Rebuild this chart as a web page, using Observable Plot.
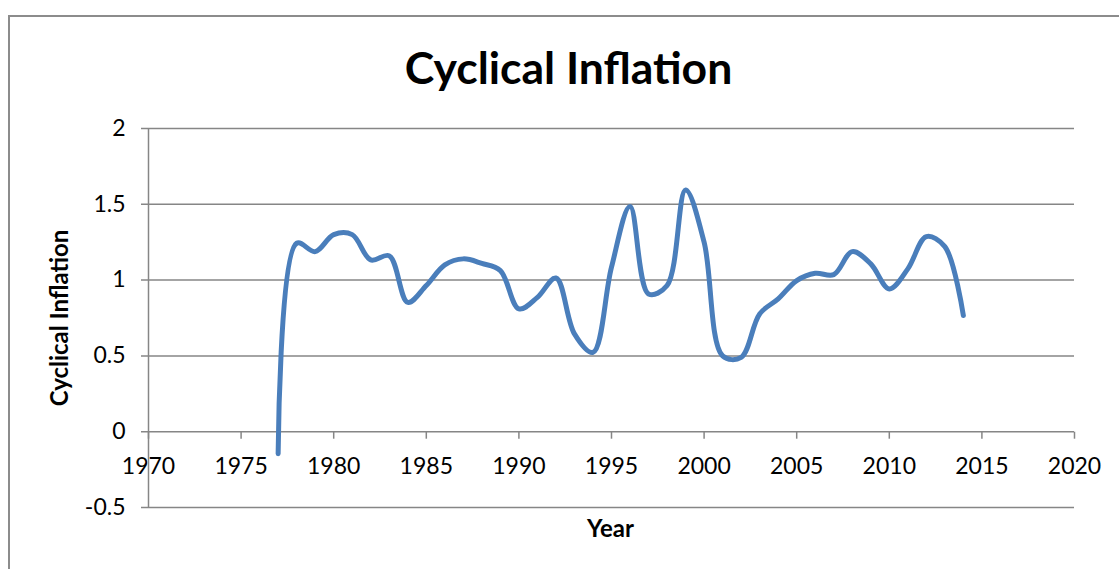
<!DOCTYPE html>
<html>
<head>
<meta charset="utf-8">
<script src="https://cdn.jsdelivr.net/npm/d3@7"></script>
<script src="https://cdn.jsdelivr.net/npm/@observablehq/plot@0.6"></script>
<style>
  html, body { margin: 0; padding: 0; background: #fff; }
  #wrap { position: relative; width: 1119px; height: 569px; overflow: hidden; }
  #border { position: absolute; left: 8px; top: 15px; width: 1200px; height: 700px;
            border-left: 2px solid #8c8c8c; border-top: 2px solid #8c8c8c; }
  #chart { position: absolute; left: 0; top: 0; }
</style>
</head>
<body>
<div id="wrap"><div id="border"></div><div id="chart"></div></div>
<script>
const title = "Cyclical Inflation";
const xLabel = "Year";
const yLabel = "Cyclical Inflation";
const years = [1977,1978,1979,1980,1981,1982,1983,1984,1985,1986,1987,1988,1989,1990,1991,1992,1993,1994,1995,1996,1997,1998,1999,2000,2001,2002,2003,2004,2005,2006,2007,2008,2009,2010,2011,2012,2013,2014];
const values = [-0.145,1.243,1.188,1.30,1.30,1.133,1.16,0.853,0.964,1.10,1.14,1.11,1.063,0.81,0.886,1.014,0.645,0.523,1.085,1.485,0.909,0.964,1.595,1.25,0.50,0.49,0.777,0.876,0.997,1.045,1.036,1.188,1.107,0.942,1.074,1.287,1.221,0.766];
const xTicks = [1970,1975,1980,1985,1990,1995,2000,2005,2010,2015,2020];
const yTicks = [-0.5,0,0.5,1,1.5,2];

const data = years.map((y, i) => ({year: y, value: values[i]}));
const grid = "#868686";
const font = "Lato, 'Open Sans', sans-serif";
const tickSymbol = {draw(ctx) { ctx.moveTo(0, 0); ctx.lineTo(0, 7); }};

const chart = Plot.plot({
  width: 1119,
  height: 569,
  marginLeft: 148,
  marginRight: 45,
  marginTop: 128,
  marginBottom: 62,
  style: {fontFamily: font, background: "transparent", overflow: "visible"},
  x: {domain: [1970, 2020], axis: null},
  y: {domain: [-0.5, 2], axis: null},
  marks: [
    Plot.ruleY(yTicks, {stroke: grid, strokeWidth: 1.5, insetLeft: -7}),
    Plot.axisY(yTicks, {tickSize: 0, tickPadding: 23, fontSize: 23, fill: "#000", label: null, tickFormat: d => String(d)}),
    Plot.text(xTicks, {x: d => d, y: 0, dy: 35, text: d => String(d), fontSize: 23, fill: "#000"}),
    Plot.dot(xTicks, {x: d => d, y: 0, symbol: tickSymbol, stroke: grid, strokeWidth: 1.5, fill: "none", r: 3}),
    Plot.ruleX([1970], {stroke: grid, strokeWidth: 1.5}),
    Plot.line(data, {x: "year", y: "value", curve: "catmull-rom", stroke: "#4a7ebb", strokeWidth: 5, strokeLinecap: "round", strokeLinejoin: "round"}),
    Plot.text([title], {frameAnchor: "top", lineAnchor: "middle", dx: -43, dy: -59, fontSize: 44.5, fontWeight: "bold", fill: "#000", text: d => d}),
    Plot.text([xLabel], {frameAnchor: "bottom", lineAnchor: "middle", dx: -1, dy: 22, fontSize: 24, fontWeight: "bold", fill: "#000", text: d => d}),
    Plot.text([yLabel], {frameAnchor: "left", lineAnchor: "middle", textAnchor: "middle", dx: -88, rotate: -90, fontSize: 24, fontWeight: "bold", fill: "#000", text: d => d})
  ]
});
document.getElementById("chart").appendChild(chart);
</script>
</body>
</html>
